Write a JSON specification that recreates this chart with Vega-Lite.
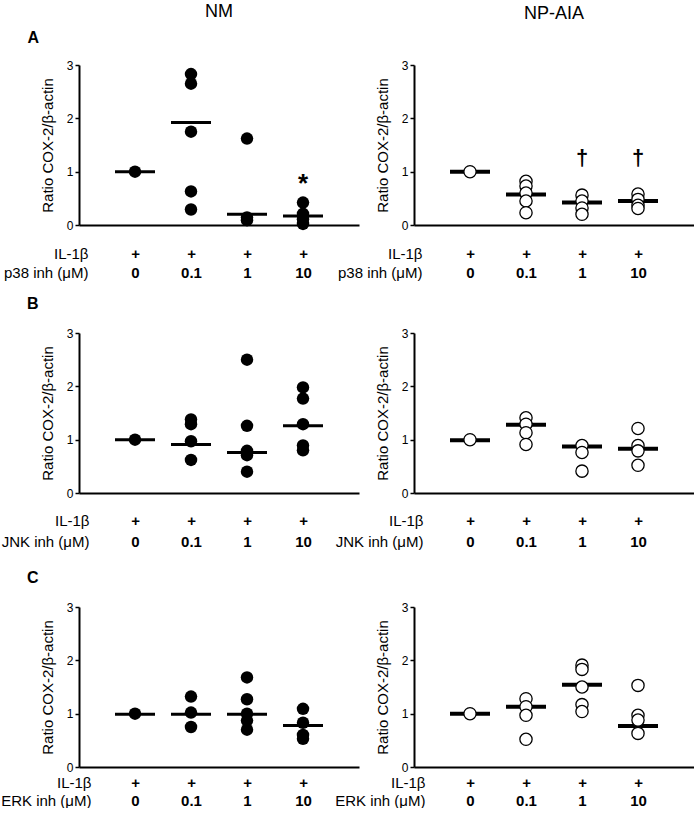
{
  "$schema": "https://vega.github.io/schema/vega-lite/v6.json",
  "padding": {"left": 0, "top": 3, "right": 0, "bottom": 0},
  "config": {
    "font": "Liberation Sans",
    "view": {"stroke": null},
    "axisX": {"domainWidth": 2, "domainColor": "black", "ticks": false, "grid": false, "labelAngle": 0, "labelFontWeight": "bold", "labelFontSize": 15, "labelColor": "black", "labelPadding": 17, "labelBaseline": "top", "labelLineHeight": 19, "titleFontWeight": "normal", "titleFontSize": 15, "titleColor": "black", "titleAlign": "right", "titleAnchor": "start", "titleY": 17, "titleBaseline": "top", "titleLineHeight": 19},
    "axisY": {"domainWidth": 2, "domainColor": "black", "tickColor": "black", "tickWidth": 1.5, "tickSize": 4, "grid": false, "labelFontSize": 12, "labelColor": "black", "labelPadding": 2, "titleFontSize": 15, "titleFontWeight": "normal", "titleColor": "black", "titlePadding": 11},
    "title": {"font": "Liberation Sans", "color": "black"}
  },
  "datasets": {
    "pts": [
      {"p": "A_NM", "k": "d", "x": "0", "v": 1.0},
      {"p": "A_NM", "k": "d", "x": "0.1", "v": 2.83},
      {"p": "A_NM", "k": "d", "x": "0.1", "v": 2.65},
      {"p": "A_NM", "k": "d", "x": "0.1", "v": 1.75},
      {"p": "A_NM", "k": "d", "x": "0.1", "v": 0.63},
      {"p": "A_NM", "k": "d", "x": "0.1", "v": 0.29},
      {"p": "A_NM", "k": "d", "x": "1", "v": 1.62},
      {"p": "A_NM", "k": "d", "x": "1", "v": 0.14},
      {"p": "A_NM", "k": "d", "x": "1", "v": 0.09},
      {"p": "A_NM", "k": "d", "x": "10", "v": 0.42},
      {"p": "A_NM", "k": "d", "x": "10", "v": 0.21},
      {"p": "A_NM", "k": "d", "x": "10", "v": 0.11},
      {"p": "A_NM", "k": "d", "x": "10", "v": 0.02},
      {"p": "A_NM", "k": "m", "x": "0", "v": 1.0},
      {"p": "A_NM", "k": "m", "x": "0.1", "v": 1.92},
      {"p": "A_NM", "k": "m", "x": "1", "v": 0.2},
      {"p": "A_NM", "k": "m", "x": "10", "v": 0.17},

      {"p": "A_NP", "k": "d", "x": "0", "v": 1.0},
      {"p": "A_NP", "k": "d", "x": "0.1", "v": 0.82},
      {"p": "A_NP", "k": "d", "x": "0.1", "v": 0.73},
      {"p": "A_NP", "k": "d", "x": "0.1", "v": 0.6},
      {"p": "A_NP", "k": "d", "x": "0.1", "v": 0.45},
      {"p": "A_NP", "k": "d", "x": "0.1", "v": 0.23},
      {"p": "A_NP", "k": "d", "x": "1", "v": 0.56},
      {"p": "A_NP", "k": "d", "x": "1", "v": 0.45},
      {"p": "A_NP", "k": "d", "x": "1", "v": 0.32},
      {"p": "A_NP", "k": "d", "x": "1", "v": 0.2},
      {"p": "A_NP", "k": "d", "x": "10", "v": 0.58},
      {"p": "A_NP", "k": "d", "x": "10", "v": 0.48},
      {"p": "A_NP", "k": "d", "x": "10", "v": 0.37},
      {"p": "A_NP", "k": "d", "x": "10", "v": 0.31},
      {"p": "A_NP", "k": "m", "x": "0", "v": 1.0},
      {"p": "A_NP", "k": "m", "x": "0.1", "v": 0.57},
      {"p": "A_NP", "k": "m", "x": "1", "v": 0.42},
      {"p": "A_NP", "k": "m", "x": "10", "v": 0.45},

      {"p": "B_NM", "k": "d", "x": "0", "v": 1.0},
      {"p": "B_NM", "k": "d", "x": "0.1", "v": 1.38},
      {"p": "B_NM", "k": "d", "x": "0.1", "v": 1.29},
      {"p": "B_NM", "k": "d", "x": "0.1", "v": 0.97},
      {"p": "B_NM", "k": "d", "x": "0.1", "v": 0.62},
      {"p": "B_NM", "k": "d", "x": "1", "v": 2.5},
      {"p": "B_NM", "k": "d", "x": "1", "v": 1.26},
      {"p": "B_NM", "k": "d", "x": "1", "v": 0.79},
      {"p": "B_NM", "k": "d", "x": "1", "v": 0.71},
      {"p": "B_NM", "k": "d", "x": "1", "v": 0.4},
      {"p": "B_NM", "k": "d", "x": "10", "v": 1.98},
      {"p": "B_NM", "k": "d", "x": "10", "v": 1.77},
      {"p": "B_NM", "k": "d", "x": "10", "v": 1.29},
      {"p": "B_NM", "k": "d", "x": "10", "v": 0.89},
      {"p": "B_NM", "k": "d", "x": "10", "v": 0.8},
      {"p": "B_NM", "k": "m", "x": "0", "v": 1.0},
      {"p": "B_NM", "k": "m", "x": "0.1", "v": 0.91},
      {"p": "B_NM", "k": "m", "x": "1", "v": 0.76},
      {"p": "B_NM", "k": "m", "x": "10", "v": 1.26},

      {"p": "B_NP", "k": "d", "x": "0", "v": 1.0},
      {"p": "B_NP", "k": "d", "x": "0.1", "v": 1.41},
      {"p": "B_NP", "k": "d", "x": "0.1", "v": 1.29},
      {"p": "B_NP", "k": "d", "x": "0.1", "v": 1.13},
      {"p": "B_NP", "k": "d", "x": "0.1", "v": 0.91},
      {"p": "B_NP", "k": "d", "x": "1", "v": 0.89},
      {"p": "B_NP", "k": "d", "x": "1", "v": 0.76},
      {"p": "B_NP", "k": "d", "x": "1", "v": 0.41},
      {"p": "B_NP", "k": "d", "x": "10", "v": 1.21},
      {"p": "B_NP", "k": "d", "x": "10", "v": 0.89},
      {"p": "B_NP", "k": "d", "x": "10", "v": 0.79},
      {"p": "B_NP", "k": "d", "x": "10", "v": 0.52},
      {"p": "B_NP", "k": "m", "x": "0", "v": 0.99},
      {"p": "B_NP", "k": "m", "x": "0.1", "v": 1.28},
      {"p": "B_NP", "k": "m", "x": "1", "v": 0.87},
      {"p": "B_NP", "k": "m", "x": "10", "v": 0.83},

      {"p": "C_NM", "k": "d", "x": "0", "v": 1.0},
      {"p": "C_NM", "k": "d", "x": "0.1", "v": 1.32},
      {"p": "C_NM", "k": "d", "x": "0.1", "v": 1.02},
      {"p": "C_NM", "k": "d", "x": "0.1", "v": 0.75},
      {"p": "C_NM", "k": "d", "x": "1", "v": 1.68},
      {"p": "C_NM", "k": "d", "x": "1", "v": 1.27},
      {"p": "C_NM", "k": "d", "x": "1", "v": 1.0},
      {"p": "C_NM", "k": "d", "x": "1", "v": 0.87},
      {"p": "C_NM", "k": "d", "x": "1", "v": 0.7},
      {"p": "C_NM", "k": "d", "x": "10", "v": 1.09},
      {"p": "C_NM", "k": "d", "x": "10", "v": 0.83},
      {"p": "C_NM", "k": "d", "x": "10", "v": 0.6},
      {"p": "C_NM", "k": "d", "x": "10", "v": 0.53},
      {"p": "C_NM", "k": "m", "x": "0", "v": 0.99},
      {"p": "C_NM", "k": "m", "x": "0.1", "v": 0.99},
      {"p": "C_NM", "k": "m", "x": "1", "v": 0.99},
      {"p": "C_NM", "k": "m", "x": "10", "v": 0.78},

      {"p": "C_NP", "k": "d", "x": "0", "v": 1.0},
      {"p": "C_NP", "k": "d", "x": "0.1", "v": 1.28},
      {"p": "C_NP", "k": "d", "x": "0.1", "v": 1.13},
      {"p": "C_NP", "k": "d", "x": "0.1", "v": 0.97},
      {"p": "C_NP", "k": "d", "x": "0.1", "v": 0.52},
      {"p": "C_NP", "k": "d", "x": "1", "v": 1.91},
      {"p": "C_NP", "k": "d", "x": "1", "v": 1.83},
      {"p": "C_NP", "k": "d", "x": "1", "v": 1.5},
      {"p": "C_NP", "k": "d", "x": "1", "v": 1.17},
      {"p": "C_NP", "k": "d", "x": "1", "v": 1.04},
      {"p": "C_NP", "k": "d", "x": "10", "v": 1.53},
      {"p": "C_NP", "k": "d", "x": "10", "v": 0.97},
      {"p": "C_NP", "k": "d", "x": "10", "v": 0.88},
      {"p": "C_NP", "k": "d", "x": "10", "v": 0.63},
      {"p": "C_NP", "k": "m", "x": "0", "v": 1.0},
      {"p": "C_NP", "k": "m", "x": "0.1", "v": 1.13},
      {"p": "C_NP", "k": "m", "x": "1", "v": 1.54},
      {"p": "C_NP", "k": "m", "x": "10", "v": 0.77}
    ],
    "notes": [
      {"p": "A_NM", "x": "10", "v": 0.85, "t": "*"},
      {"p": "A_NP", "x": "1", "v": 1.25, "t": "†"},
      {"p": "A_NP", "x": "10", "v": 1.25, "t": "†"}
    ]
  },
  "data": {"name": "pts"},
  "bounds": "flush",
  "spacing": 335,
  "hconcat": [
    {
      "bounds": "flush",
      "spacing": 108,
      "vconcat": [
        {
          "width": 280, "height": 160,
          "title": {"text": "NM", "anchor": "middle", "frame": "group", "fontSize": 18, "fontWeight": "normal", "offset": 8},
          "resolve": {"scale": {"x": "independent"}},
          "encoding": {
            "y": {"field": "v", "type": "quantitative", "scale": {"domain": [0, 3]}, "axis": {"values": [0, 1, 2, 3], "title": "Ratio COX-2/β-actin"}}
          },
          "layer": [
            {
              "encoding": {
                "x": {"field": "x", "type": "ordinal", "scale": {"type": "point", "padding": 1, "domain": ["0", "0.1", "1", "10"]}, "axis": {"orient": "bottom", "labelExpr": "['+', datum.label]", "title": ["IL-1β", "p38 inh (μM)"], "titleX": 9, "labelPadding": 21, "titleY": 21}}
              },
              "layer": [
                {"transform": [{"filter": "datum.p == 'A_NM' && datum.k == 'm'"}], "mark": {"type": "tick", "size": 40, "thickness": 3, "color": "black", "opacity": 1}},
                {"transform": [{"filter": "datum.p == 'A_NM' && datum.k == 'd'"}], "mark": {"type": "point", "shape": "circle", "filled": true, "color": "black", "opacity": 1, "size": 156}}
              ]
            },
            {
              "data": {"name": "notes"},
              "transform": [{"filter": "datum.p == 'A_NM'"}],
              "mark": {"type": "text", "fontSize": 26, "fontWeight": "bold", "baseline": "middle", "dy": 4, "color": "black"},
              "encoding": {
                "x": {"field": "x", "type": "ordinal", "scale": {"type": "point", "padding": 1, "domain": ["0", "0.1", "1", "10"]}, "axis": {"orient": "top", "title": "A", "labels": false, "ticks": false, "domain": false, "grid": false, "titleX": -52, "titleY": -28, "titleAlign": "left", "titleBaseline": "middle", "titleFontSize": 16, "titleFontWeight": "bold"}},
                "text": {"field": "t"}
              }
            }
          ]
        },
        {
          "bounds": "flush",
          "spacing": 114,
          "vconcat": [
            {
              "width": 280, "height": 160,
              "title": {"text": "B", "anchor": "start", "frame": "group", "dx": -52, "fontSize": 16, "fontWeight": "bold", "offset": 15},
              "encoding": {
                "x": {"field": "x", "type": "ordinal", "scale": {"type": "point", "padding": 1, "domain": ["0", "0.1", "1", "10"]}, "axis": {"labelExpr": "['+', datum.label]", "title": ["IL-1β", "JNK inh (μM)"], "titleX": 10, "labelPadding": 20, "titleY": 20, "labelLineHeight": 21, "titleLineHeight": 21}},
                "y": {"field": "v", "type": "quantitative", "scale": {"domain": [0, 3]}, "axis": {"values": [0, 1, 2, 3], "title": "Ratio COX-2/β-actin"}}
              },
              "layer": [
                {"transform": [{"filter": "datum.p == 'B_NM' && datum.k == 'm'"}], "mark": {"type": "tick", "size": 40, "thickness": 3, "color": "black", "opacity": 1}},
                {"transform": [{"filter": "datum.p == 'B_NM' && datum.k == 'd'"}], "mark": {"type": "point", "shape": "circle", "filled": true, "color": "black", "opacity": 1, "size": 156}}
              ]
            },
            {
              "width": 280, "height": 160,
              "title": {"text": "C", "anchor": "start", "frame": "group", "dx": -52, "fontSize": 16, "fontWeight": "bold", "offset": 15},
              "encoding": {
                "x": {"field": "x", "type": "ordinal", "scale": {"type": "point", "padding": 1, "domain": ["0", "0.1", "1", "10"]}, "axis": {"labelExpr": "['+', datum.label]", "title": ["IL-1β", "ERK inh (μM)"], "titleX": 12, "labelPadding": 8, "titleY": 8, "labelLineHeight": 18, "titleLineHeight": 18}},
                "y": {"field": "v", "type": "quantitative", "scale": {"domain": [0, 3]}, "axis": {"values": [0, 1, 2, 3], "title": "Ratio COX-2/β-actin"}}
              },
              "layer": [
                {"transform": [{"filter": "datum.p == 'C_NM' && datum.k == 'm'"}], "mark": {"type": "tick", "size": 40, "thickness": 3, "color": "black", "opacity": 1}},
                {"transform": [{"filter": "datum.p == 'C_NM' && datum.k == 'd'"}], "mark": {"type": "point", "shape": "circle", "filled": true, "color": "black", "opacity": 1, "size": 156}}
              ]
            }
          ]
        }
      ]
    },
    {
      "bounds": "flush",
      "spacing": 108,
      "vconcat": [
        {
          "width": 280, "height": 160,
          "title": {"text": "NP-AIA", "anchor": "middle", "frame": "group", "fontSize": 18, "fontWeight": "normal", "offset": 36},
          "encoding": {
            "x": {"field": "x", "type": "ordinal", "scale": {"type": "point", "padding": 1, "domain": ["0", "0.1", "1", "10"]}, "axis": {"labelExpr": "['+', datum.label]", "title": ["IL-1β", "p38 inh (μM)"], "titleX": 8, "labelPadding": 21, "titleY": 21}},
            "y": {"field": "v", "type": "quantitative", "scale": {"domain": [0, 3]}, "axis": {"values": [0, 1, 2, 3], "title": "Ratio COX-2/β-actin"}}
          },
          "layer": [
            {"transform": [{"filter": "datum.p == 'A_NP' && datum.k == 'm'"}], "mark": {"type": "tick", "size": 40, "thickness": 4, "color": "black", "opacity": 1}},
            {"transform": [{"filter": "datum.p == 'A_NP' && datum.k == 'd'"}], "mark": {"type": "point", "shape": "circle", "filled": true, "fill": "white", "stroke": "black", "strokeWidth": 1.3, "opacity": 1, "size": 150}},
            {"data": {"name": "notes"}, "transform": [{"filter": "datum.p == 'A_NP'"}], "mark": {"type": "text", "fontSize": 22, "fontWeight": "bold", "baseline": "middle", "color": "black"}, "encoding": {"text": {"field": "t"}}}
          ]
        },
        {
          "bounds": "flush",
          "spacing": 114,
          "vconcat": [
            {
              "width": 280, "height": 160,
              "encoding": {
                "x": {"field": "x", "type": "ordinal", "scale": {"type": "point", "padding": 1, "domain": ["0", "0.1", "1", "10"]}, "axis": {"labelExpr": "['+', datum.label]", "title": ["IL-1β", "JNK inh (μM)"], "titleX": 9, "labelPadding": 20, "titleY": 20, "labelLineHeight": 21, "titleLineHeight": 21}},
                "y": {"field": "v", "type": "quantitative", "scale": {"domain": [0, 3]}, "axis": {"values": [0, 1, 2, 3], "title": "Ratio COX-2/β-actin"}}
              },
              "layer": [
                {"transform": [{"filter": "datum.p == 'B_NP' && datum.k == 'm'"}], "mark": {"type": "tick", "size": 40, "thickness": 4, "color": "black", "opacity": 1}},
                {"transform": [{"filter": "datum.p == 'B_NP' && datum.k == 'd'"}], "mark": {"type": "point", "shape": "circle", "filled": true, "fill": "white", "stroke": "black", "strokeWidth": 1.3, "opacity": 1, "size": 150}}
              ]
            },
            {
              "width": 280, "height": 160,
              "encoding": {
                "x": {"field": "x", "type": "ordinal", "scale": {"type": "point", "padding": 1, "domain": ["0", "0.1", "1", "10"]}, "axis": {"labelExpr": "['+', datum.label]", "title": ["IL-1β", "ERK inh (μM)"], "titleX": 11, "labelPadding": 8, "titleY": 8, "labelLineHeight": 18, "titleLineHeight": 18}},
                "y": {"field": "v", "type": "quantitative", "scale": {"domain": [0, 3]}, "axis": {"values": [0, 1, 2, 3], "title": "Ratio COX-2/β-actin"}}
              },
              "layer": [
                {"transform": [{"filter": "datum.p == 'C_NP' && datum.k == 'm'"}], "mark": {"type": "tick", "size": 40, "thickness": 4, "color": "black", "opacity": 1}},
                {"transform": [{"filter": "datum.p == 'C_NP' && datum.k == 'd'"}], "mark": {"type": "point", "shape": "circle", "filled": true, "fill": "white", "stroke": "black", "strokeWidth": 1.3, "opacity": 1, "size": 150}}
              ]
            }
          ]
        }
      ]
    }
  ]
}
